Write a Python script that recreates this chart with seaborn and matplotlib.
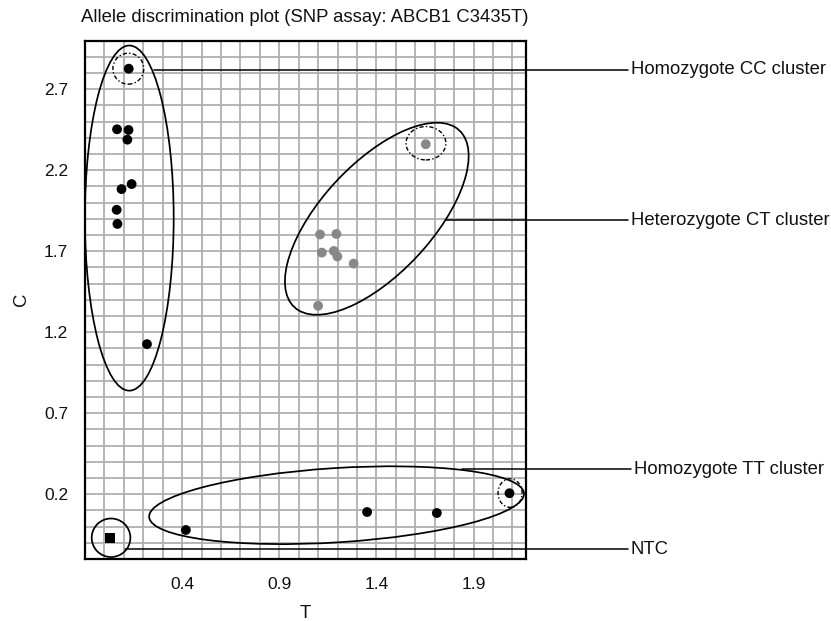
import numpy as np
import pandas as pd
import matplotlib
matplotlib.use("Agg")
import matplotlib.pyplot as plt
from matplotlib.patches import Ellipse
from matplotlib.ticker import MultipleLocator, FixedLocator
import seaborn as sns

# ---------------- data ----------------
cc_T = [0.125, 0.065, 0.124, 0.118, 0.140, 0.088, 0.063, 0.067, 0.219]
cc_C = [2.826, 2.452, 2.448, 2.388, 2.114, 2.083, 1.955, 1.868, 1.126]

ct_T = [1.654, 1.110, 1.194, 1.119, 1.181, 1.199, 1.283, 1.100]
ct_C = [2.360, 1.803, 1.806, 1.691, 1.701, 1.667, 1.623, 1.363]

tt_T = [0.419, 1.352, 1.711, 2.085]
tt_C = [-0.021, 0.090, 0.084, 0.206]

ntc_T = [0.030]
ntc_C = [-0.072]

x_ticks = [0.4, 0.9, 1.4, 1.9]
y_ticks = [0.2, 0.7, 1.2, 1.7, 2.2, 2.7]

cluster_labels = ["Homozygote CC cluster", "Heterozygote CT cluster",
                  "Homozygote TT cluster", "NTC"]

df = pd.DataFrame({
    "T": cc_T + ct_T + tt_T + ntc_T,
    "C": cc_C + ct_C + tt_C + ntc_C,
    "group": (["CC"] * len(cc_T) + ["CT"] * len(ct_T)
              + ["TT"] * len(tt_T) + ["NTC"] * len(ntc_T)),
})

# ---------------- style ----------------
sns.set_style("white")
plt.rcParams["font.family"] = ["Liberation Sans", "DejaVu Sans"]

fig = plt.figure(figsize=(8.31, 6.21), dpi=100)
W, H = 831, 621
ax = fig.add_axes([85 / W, (H - 559) / H, (526 - 85) / W, (559 - 40.5) / H])

ax.set_xlim(-0.1, 2.17)
ax.set_ylim(-0.2, 3.0)

# grid every 0.1
ax.xaxis.set_minor_locator(MultipleLocator(0.1))
ax.yaxis.set_minor_locator(MultipleLocator(0.1))
ax.xaxis.set_major_locator(FixedLocator(x_ticks))
ax.yaxis.set_major_locator(FixedLocator(y_ticks))
ax.set_xticklabels([f"{v:.1f}" for v in x_ticks])
ax.set_yticklabels([f"{v:.1f}" for v in y_ticks])
grid_col = "#b0b0b0"
ax.grid(which="both", color=grid_col, linewidth=1.3, zorder=0)
ax.set_axisbelow(True)
ax.tick_params(which="major", length=6, width=1.3, color=grid_col,
               labelsize=12.5, labelcolor="#111111", pad=6)
ax.tick_params(which="minor", length=3.5, width=1.3, color=grid_col)
ax.tick_params(axis="x", which="major", pad=7)

for s in ax.spines.values():
    s.set_color("black")
    s.set_linewidth(1.6)
    s.set_visible(True)

# ---------------- points ----------------
palette = {"CC": "black", "CT": "#888888", "TT": "black", "NTC": "black"}
markers = {"CC": "o", "CT": "o", "TT": "o", "NTC": "s"}
sns.scatterplot(data=df, x="T", y="C", hue="group", style="group",
                palette=palette, markers=markers, s=50, linewidth=0,
                legend=False, ax=ax, zorder=3, clip_on=False)

# ---------------- cluster ellipses ----------------
ell_kw = dict(fill=False, edgecolor="black", linewidth=1.25, zorder=4, clip_on=False)
ax.add_patch(Ellipse((0.128, 1.904), 0.457, 2.13, angle=0, **ell_kw))
ax.add_patch(Ellipse((1.402, 1.900), 1.388, 0.611, angle=54.6, **ell_kw))
ax.add_patch(Ellipse((1.195, 0.132), 1.935, 0.458, angle=4.4, **ell_kw))
ax.add_patch(Ellipse((0.034, -0.069), 0.199, 0.238, angle=0, **ell_kw))

dash_kw = dict(fill=False, edgecolor="black", linewidth=1.0, zorder=4,
               linestyle=(0, (3, 1.6, 1, 1.6)), clip_on=False)
ax.add_patch(Ellipse((0.123, 2.826), 0.159, 0.191, **dash_kw))
ax.add_patch(Ellipse((1.655, 2.366), 0.205, 0.206, **dash_kw))
ax.add_patch(Ellipse((2.088, 0.207), 0.124, 0.176, **dash_kw))

# ---------------- leader lines and labels ----------------
leader_y = [2.819, 1.891, 0.355, -0.140]
leader_x0 = [0.257, 1.759, 1.839, 0.106]
leader_x1 = [2.694, 2.694, 2.709, 2.694]
text_x = [2.709, 2.709, 2.728, 2.709]
for lab, y, x0, x1, tx in zip(cluster_labels, leader_y, leader_x0, leader_x1, text_x):
    ax.plot([x0, x1], [y, y], color="black", linewidth=1.1, clip_on=False, zorder=5)
    ax.text(tx, y, lab, ha="left", va="center", fontsize=13.3, color="#111111",
            clip_on=False)

# ---------------- labels ----------------
ax.set_xlabel("T", fontsize=13.3, color="#111111")
ax.set_ylabel("C", fontsize=13.3, color="#111111")
ax.xaxis.set_label_coords(0.5, -0.088)
ax.yaxis.set_label_coords(-0.125, 0.5)
fig.text(305 / W, 1 - 17 / H, "Allele discrimination plot (SNP assay: ABCB1 C3435T)",
         ha="center", va="center", fontsize=13.3, color="#111111")

fig.savefig("out.png", dpi=100)
